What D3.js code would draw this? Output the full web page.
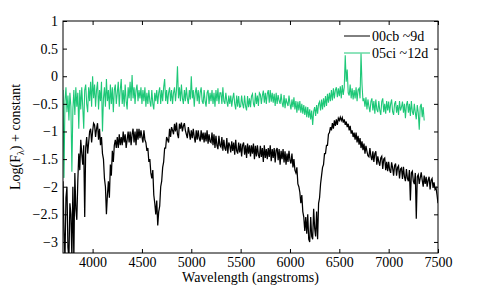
<!DOCTYPE html>
<html>
<head>
<meta charset="utf-8">
<script src="https://cdn.jsdelivr.net/npm/d3@7"></script>
<style>
  body { margin: 0; background: #fff; }
  svg { display: block; }
</style>
</head>
<body>
<svg id="chart" width="485" height="286"></svg>
<script>
const sampleStep = 10;

// 00cb ~9d, 3700 .. 7500
const blackStart = 3700;
const blackValues = [
  -1.9, -2.8, -3.3, -2.2, -2.0, -3.1, -3.3, -2.3, -2.5, -3.3,
  -2.0, -3.3, -1.75, -2.4, -2.6, -1.9, -1.4, -1.7, -1.15, -1.4,
  -1.6, -1.25, -2.55, -1.3, -1.1, -1.4, -1.2, -1.0, -0.95, -1.2,
  -1.0, -0.85, -0.88, -1.1, -0.95, -0.85, -1.15, -0.95, -1.25, -1.1,
  -1.4, -1.5, -1.85, -2.0, -2.5, -2.15, -1.9, -2.2, -1.6, -1.8,
  -1.35, -1.55, -1.25, -1.15, -1.3, -1.1, -1.3, -1.05, -1.25, -1.1,
  -1.25, -1.0, -1.2, -1.05, -1.3, -1.15, -1.0, -1.2, -1.0, -1.25,
  -1.05, -0.95, -1.2, -1.0, -1.25, -0.95, -1.15, -0.95, -1.12, -0.98,
  -1.1, -1.2, -0.98, -1.15, -1.2, -1.35, -1.3, -1.55, -1.5, -1.75,
  -1.85, -1.7, -2.15, -2.3, -2.5, -2.25, -2.7, -2.45, -2.35, -2.0,
  -1.9, -1.65, -1.55, -1.3, -1.3, -1.1, -1.15, -1.2, -0.95, -1.1,
  -0.92, -0.98, -1.05, -0.86, -1.0, -0.84, -1.05, -1.12, -0.86, -0.95,
  -0.84, -1.0, -0.9, -0.85, -0.98, -1.05, -1.12, -0.92, -1.02, -1.15,
  -0.98, -1.12, -0.95, -1.1, -1.2, -0.98, -1.15, -0.98, -1.12, -1.18,
  -0.98, -1.15, -1.02, -1.2, -1.02, -1.18, -0.98, -1.22, -1.05, -1.18,
  -1.2, -1.02, -1.25, -1.05, -1.3, -1.08, -1.25, -1.32, -1.08, -1.25,
  -1.28, -1.1, -1.35, -1.15, -1.3, -1.35, -1.12, -1.4, -1.2, -1.25,
  -1.38, -1.18, -1.35, -1.2, -1.42, -1.15, -1.35, -1.4, -1.2, -1.38,
  -1.22, -1.45, -1.25, -1.2, -1.42, -1.25, -1.48, -1.22, -1.4, -1.25,
  -1.45, -1.25, -1.4, -1.22, -1.5, -1.26, -1.45, -1.25, -1.42, -1.48,
  -1.26, -1.46, -1.3, -1.55, -1.25, -1.48, -1.32, -1.5, -1.3, -1.46,
  -1.25, -1.54, -1.32, -1.48, -1.3, -1.56, -1.34, -1.3, -1.52, -1.32,
  -1.6, -1.35, -1.5, -1.32, -1.56, -1.36, -1.6, -1.4, -1.55, -1.35,
  -1.52, -1.58, -1.4, -1.65, -1.5, -1.7, -1.75, -1.65, -1.95, -2.0,
  -2.1, -2.3, -2.15, -2.45, -2.55, -2.8, -2.55, -2.85, -2.5, -2.95,
  -3.0, -2.55, -2.9, -2.95, -2.4, -2.75, -2.9, -2.45, -2.95, -2.3,
  -2.2, -1.95, -1.8, -1.65, -1.6, -1.4, -1.4, -1.25, -1.25, -1.05,
  -1.02, -0.92, -0.98, -0.85, -0.95, -0.8, -0.9, -0.78, -0.88, -0.76,
  -0.8, -0.74, -0.8, -0.75, -0.84, -0.78, -0.88, -0.82, -0.92, -0.86,
  -0.98, -0.9, -1.04, -0.98, -1.1, -1.02, -1.15, -1.02, -1.2, -1.08,
  -1.24, -1.12, -1.3, -1.18, -1.34, -1.22, -1.4, -1.26, -1.36, -1.44,
  -1.46, -1.3, -1.45, -1.52, -1.36, -1.55, -1.4, -1.36, -1.6, -1.45,
  -1.55, -1.62, -1.48, -1.45, -1.68, -1.5, -1.48, -1.7, -1.55, -1.72,
  -1.55, -1.7, -1.75, -1.56, -1.66, -1.8, -1.62, -1.58, -1.8, -1.65,
  -1.62, -1.85, -1.68, -1.66, -1.86, -1.64, -1.82, -1.9, -1.68, -1.85,
  -1.9, -1.7, -2.25, -1.75, -1.72, -1.9, -1.95, -1.75, -2.58, -1.82,
  -1.78, -1.95, -1.84, -1.74, -1.88, -2.0, -1.8, -1.95, -1.82, -2.0,
  -1.88, -1.82, -2.05, -1.88, -1.85, -2.02, -1.92, -2.05, -2.02, -2.15,
  -2.3
];

// 05ci ~12d, 3700 .. 7360
const greenStart = 3700;
const greenValues = [
  -0.25, -1.84, -0.45, -0.2, -0.65, -0.35, -0.8, -0.3, -0.55, -1.73,
  -0.6, -0.25, -0.7, -0.2, -0.55, -0.3, -0.95, -0.25, -0.6, -0.2,
  -0.55, -0.95, -0.25, -0.15, -0.5, -0.65, -0.2, -0.45, -0.1, -0.55,
  0.0, -0.4, -0.15, -0.55, -0.25, -0.1, -0.6, -0.25, -0.45, -0.1,
  -1.0, -0.4, -0.2, -0.55, -0.05, -0.45, -0.25, -0.6, -0.15, -0.5,
  -0.2, -0.65, -0.25, -0.15, -0.5, -0.3, -0.1, -0.55, -0.25, -0.05,
  -0.5, -0.25, -0.55, -0.15, -0.45, -0.6, -0.2, -0.4, -0.1, -0.45,
  0.02, -0.4, -0.2, -0.5, -0.25, -0.15, -0.45, -0.25, -0.4, -0.2,
  -0.5, -0.25, -0.45, -0.2, -0.55, -0.3, -0.5, -0.25, -0.45, -0.55,
  -0.25, -0.5, -0.6, -0.3, -0.45, -0.25, -0.5, -0.3, -0.2, -0.5,
  -0.25, -0.45, -0.2, -0.05, -0.45, -0.25, -0.5, -0.3, -0.2, -0.45,
  -0.25, -0.5, -0.3, -0.2, -0.45, -0.25, 0.18, -0.4, -0.2, -0.45,
  -0.15, -0.4, -0.5, -0.25, -0.45, -0.2, -0.4, -0.5, -0.25, -0.42,
  0.0, -0.4, -0.25, -0.55, -0.3, -0.2, -0.45, -0.25, -0.5, -0.3,
  -0.2, -0.45, -0.5, -0.25, -0.45, -0.55, -0.3, -0.25, -0.5, -0.3,
  -0.45, -0.25, -0.5, -0.3, -0.55, -0.25, -0.45, -0.22, -0.5, -0.3,
  -0.3, -0.5, -0.2, -0.45, -0.5, -0.3, -0.45, -0.55, -0.35, -0.5,
  -0.35, -0.55, -0.4, -0.3, -0.5, -0.6, -0.35, -0.55, -0.36, -0.56,
  -0.55, -0.35, -0.5, -0.58, -0.35, -0.54, -0.62, -0.36, -0.56, -0.4,
  -0.56, -0.36, -0.32, -0.5, -0.56, -0.3, -0.5, -0.35, -0.54, -0.3,
  -0.33, -0.5, -0.35, -0.26, -0.48, -0.3, -0.5, -0.32, -0.25, -0.48,
  -0.25, -0.46, -0.3, -0.48, -0.32, -0.54, -0.3, -0.5, -0.34, -0.44,
  -0.5, -0.32, -0.48, -0.56, -0.34, -0.58, -0.4, -0.48, -0.54, -0.35,
  -0.5, -0.6, -0.42, -0.56, -0.38, -0.6, -0.45, -0.66, -0.46, -0.62,
  -0.45, -0.66, -0.5, -0.68, -0.52, -0.7, -0.55, -0.74, -0.56, -0.75,
  -0.6, -0.78, -0.62, -0.88, -0.64, -0.56, -0.72, -0.52, -0.68, -0.5,
  -0.46, -0.62, -0.42, -0.6, -0.4, -0.56, -0.36, -0.54, -0.32, -0.48,
  -0.3, -0.45, -0.25, -0.44, -0.22, -0.4, -0.25, -0.2, -0.38, -0.22,
  -0.36, -0.18, -0.4, -0.16, -0.34, -0.2, 0.38, -0.1, 0.12, -0.3,
  -0.35, -0.15, -0.4, -0.22, -0.42, -0.25, -0.4, -0.2, -0.45, -0.25,
  -0.22, -0.4, 0.41, -0.15, -0.45, -0.4, -0.55, -0.38, -0.6, -0.42,
  -0.55, -0.65, -0.46, -0.4, -0.62, -0.45, -0.68, -0.42, -0.6, -0.65,
  -0.45, -0.62, -0.7, -0.46, -0.4, -0.65, -0.5, -0.68, -0.45, -0.62,
  -0.46, -0.66, -0.5, -0.42, -0.64, -0.7, -0.5, -0.45, -0.66, -0.52,
  -0.7, -0.45, -0.62, -0.56, -0.46, -0.66, -0.5, -0.76, -0.52, -0.45,
  -0.66, -0.5, -0.72, -0.45, -0.64, -0.7, -0.5, -0.66, -0.78, -0.52,
  -0.66, -0.97, -0.55, -0.5, -0.74, -0.56, -0.8
];

const xTicks = [4000, 4500, 5000, 5500, 6000, 6500, 7000, 7500];
const yTicks = [1, 0.5, 0, -0.5, -1, -1.5, -2, -2.5, -3];
const legendLabels = ["00cb ~9d", "05ci ~12d"];
const seriesColors = ["#000000", "#1ec878"];

const serif = "'Liberation Serif', 'DejaVu Serif', serif";

// ---- layout ----
const svg = d3.select("#chart");
const margin = { top: 21, right: 47, bottom: 33, left: 63 };
const width = 485 - margin.left - margin.right;
const height = 286 - margin.top - margin.bottom;

const x = d3.scaleLinear().domain([3700, 7500]).range([0, width]);
const y = d3.scaleLinear().domain([-3.2, 1]).range([height, 0]);

const g = svg.append("g")
  .attr("transform", `translate(${margin.left},${margin.top})`);

g.append("clipPath").attr("id", "plot-clip")
  .append("rect").attr("width", width).attr("height", height);

function toPoints(start, values) {
  return values.map((v, i) => ({ w: start + i * sampleStep, v: v }));
}

const line = d3.line()
  .x(d => x(d.w))
  .y(d => y(d.v));

const plot = g.append("g").attr("clip-path", "url(#plot-clip)");

plot.append("path")
  .datum(toPoints(greenStart, greenValues))
  .attr("fill", "none")
  .attr("stroke", seriesColors[1])
  .attr("stroke-width", 1.1)
  .attr("d", line);

plot.append("path")
  .datum(toPoints(blackStart, blackValues))
  .attr("fill", "none")
  .attr("stroke", seriesColors[0])
  .attr("stroke-width", 1.25)
  .attr("d", line);

// ---- axes (inward ticks on all four sides) ----
const fmt = d => d3.format("")(d).replace("-", "\u2212");

function styleAxis(a) {
  a.attr("font-family", null).attr("font-size", null);
  a.select(".domain").remove();
  a.selectAll("line").attr("stroke", "#000");
  a.selectAll("text")
    .style("font-family", serif)
    .style("font-size", "14px")
    .attr("fill", "#000");
}

g.append("g")
  .attr("transform", `translate(0,${height})`)
  .call(d3.axisBottom(x).tickValues(xTicks).tickSizeInner(-4).tickSizeOuter(0).tickPadding(4).tickFormat(d3.format("")))
  .call(styleAxis);

g.append("g")
  .call(d3.axisTop(x).tickValues(xTicks).tickSizeInner(-4).tickSizeOuter(0).tickFormat(""))
  .call(styleAxis);

g.append("g")
  .call(d3.axisLeft(y).tickValues(yTicks).tickSizeInner(-4).tickSizeOuter(0).tickPadding(5).tickFormat(fmt))
  .call(styleAxis);

g.append("g")
  .attr("transform", `translate(${width},0)`)
  .call(d3.axisRight(y).tickValues(yTicks).tickSizeInner(-4).tickSizeOuter(0).tickFormat(""))
  .call(styleAxis);

g.append("rect")
  .attr("width", width).attr("height", height)
  .attr("fill", "none").attr("stroke", "#000").attr("stroke-width", 1);

// ---- axis titles ----
svg.append("text")
  .attr("x", margin.left + width / 2)
  .attr("y", 282)
  .attr("text-anchor", "middle")
  .style("font-family", serif)
  .style("font-size", "14px")
  .text("Wavelength (angstroms)");

const yTitle = svg.append("text")
  .attr("transform", `translate(20,${margin.top + height / 2}) rotate(-90)`)
  .attr("text-anchor", "middle")
  .style("font-family", serif)
  .style("font-size", "14px");
yTitle.append("tspan").text("Log(F");
yTitle.append("tspan").attr("dy", 4).style("font-size", "10px").text("\u03bb");
yTitle.append("tspan").attr("dy", -4).text(") + constant");

// ---- legend ----
const legend = svg.append("g");
legendLabels.forEach((label, i) => {
  const ly = 36 + i * 17;
  legend.append("line")
    .attr("x1", 344).attr("x2", 370)
    .attr("y1", ly).attr("y2", ly)
    .attr("stroke", seriesColors[i]).attr("stroke-width", 1);
  legend.append("text")
    .attr("x", 372).attr("y", ly + 4.5)
    .style("font-family", serif)
    .style("font-size", "14px")
    .text(label);
});
</script>
</body>
</html>
